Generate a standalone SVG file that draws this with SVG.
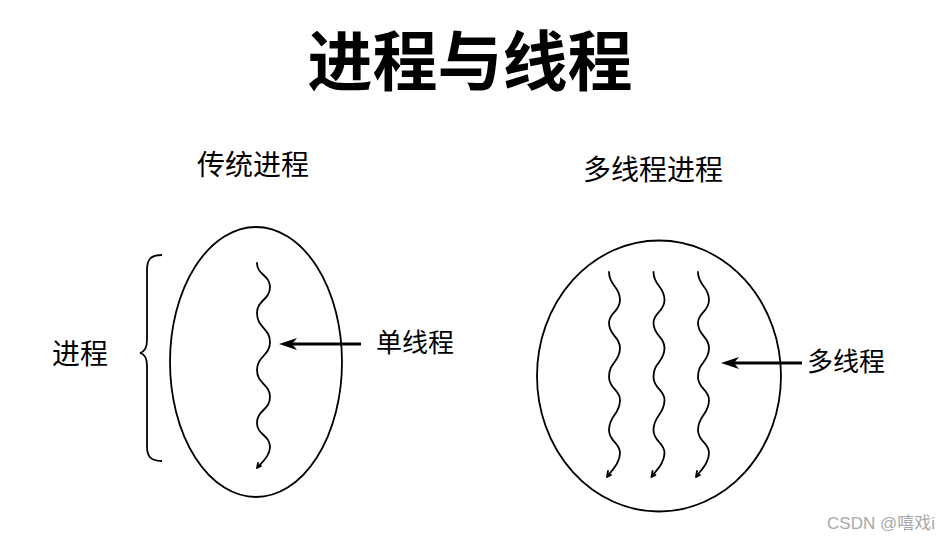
<svg xmlns="http://www.w3.org/2000/svg" width="948" height="541" viewBox="0 0 948 541">
<style>
.t{font-family:"Noto Sans CJK SC","Noto Sans",sans-serif;fill:#000}
.shape{fill:none;stroke:#000;stroke-width:1.8}
.wave{fill:none;stroke:#000;stroke-width:1.8;stroke-linecap:round;stroke-linejoin:round}
.arrow{stroke:#000;stroke-width:3.2;fill:none;marker-end:url(#ah)}
</style>
<defs>
<marker id="ah" markerUnits="userSpaceOnUse" viewBox="-2 -8 22 16" markerWidth="22" markerHeight="16" refX="7" refY="0" orient="auto">
<path d="M18,0 L0,-6 L5,0 L0,6 Z" fill="#000"/>
</marker>
</defs>
<rect width="948" height="541" fill="#fff"/>
<text class="t" x="470" y="85" font-size="65" font-weight="bold" text-anchor="middle">进程与线程</text>

<g id="traditional">
<text class="t" x="253" y="175" font-size="28" text-anchor="middle">传统进程</text>
<ellipse class="shape" cx="256" cy="362" rx="86" ry="135"/>
<path class="wave" d="M257,263 C257,275 270,275 270,287 C270,300 257,300 257,313 C257,328 270,328 270,342 C270,356 257,356 257,370 C257,384 270,384 270,397 C270,410 257,410 257,423 C257,435 270,435 270,447 C270,456 262,462 257,468 M257,468 L258,463 M257,468 L261,466"/>
</g>

<g id="brace">
<path class="shape" d="M162,255 C150,255 147,260 147,270 L147,340 C147,348 144,352 140,353 C144,354 147,358 147,366 L147,446 C147,456 150,461 162,461"/>
<text class="t" x="80" y="364" font-size="28" text-anchor="middle">进程</text>
</g>

<g id="multithread">
<text class="t" x="653" y="180" font-size="28" text-anchor="middle">多线程进程</text>
<ellipse class="shape" cx="659" cy="376" rx="122" ry="135.5"/>
<g id="waves">
<path id="w1" class="wave" d="M609,272 C609,286 620,286 620,300 C620,312 609,312 609,323 C609,336 620,336 620,348 C620,362 609,362 609,377 C609,389 620,389 620,400 C620,415 609,415 609,430 C609,442 620,442 620,453 C620,463 612,470 607,477 M607,477 L608,471 M607,477 L611,475"/>
<use href="#w1" x="44.5"/>
<use href="#w1" x="89"/>
</g>
</g>

<g id="connectors">
<line class="arrow" x1="361" y1="344" x2="290" y2="344"/>
<line class="arrow" x1="802" y1="363" x2="732" y2="363"/>
</g>

<g id="labels">
<text class="t" x="376" y="352" font-size="26">单线程</text>
<text class="t" x="807" y="371" font-size="26">多线程</text>
</g>
<text x="935" y="529" font-size="17" text-anchor="end" fill="#a8a8a8" font-family="Liberation Sans,Noto Sans CJK SC,sans-serif">CSDN @嘻戏i</text>
</svg>
